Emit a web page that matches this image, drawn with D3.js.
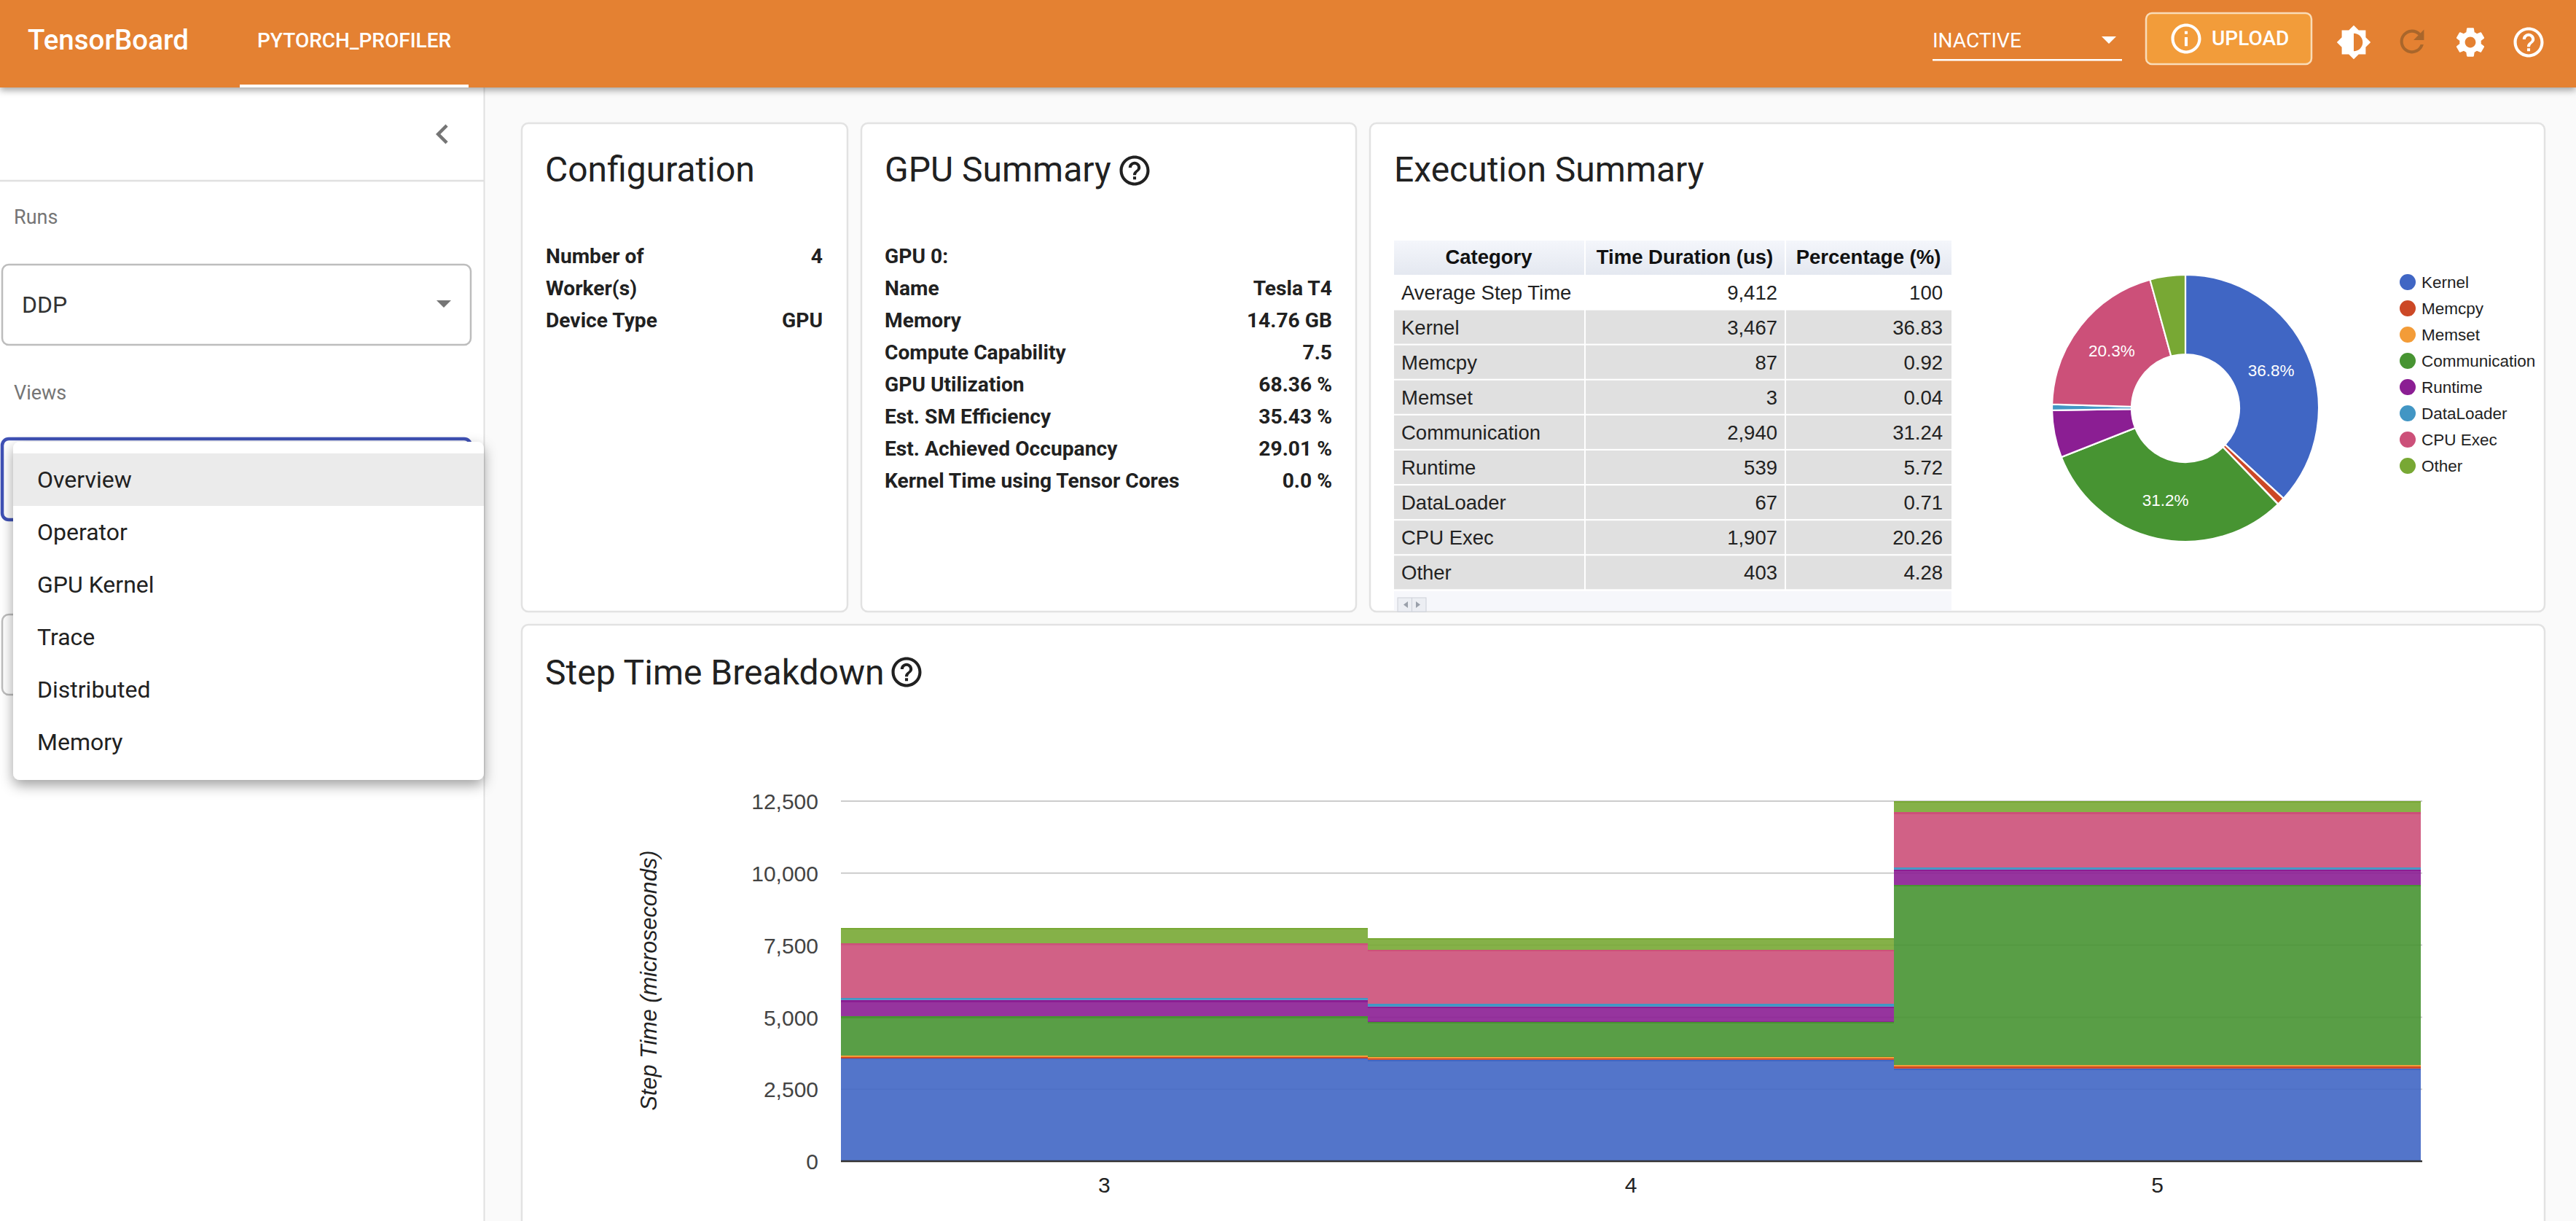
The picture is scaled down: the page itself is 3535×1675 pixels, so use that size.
<!DOCTYPE html>
<html><head><meta charset="utf-8">
<script src="https://cdn.jsdelivr.net/npm/d3@7/dist/d3.min.js"></script>
<style>html,body{margin:0;padding:0;background:#fafafa;overflow:hidden}svg{display:block}text{font-family:Roboto,sans-serif}.ar text,text.ar{font-family:"Liberation Sans",Arial,sans-serif}</style>
</head><body><div id="app"></div><script>
// ---- data ----
const categories = ["Kernel","Memcpy","Memset","Communication","Runtime","DataLoader","CPU Exec","Other"];
const durations  = [3467,87,3,2940,539,67,1907,403];
const percents   = ["36.83","0.92","0.04","31.24","5.72","0.71","20.26","4.28"];
const colors     = ["#4066c4","#cc4826","#f39c38","#479432","#8b1e93","#4296c4","#cc5079","#78a834"];
const steps      = ["3","4","5"];
const kernel        = [3600,3520,3220];
const memcpy        = [30,70,80];
const memset        = [40,40,50];
const communication = [1355,1215,6250];
const runtime       = [555,520,520];
const dataLoader    = [80,90,70];
const cpuExec       = [1900,1875,1920];
const other         = [535,415,400];
const yTicks = [0,2500,5000,7500,10000,12500];
const tableHeader = ["Category","Time Duration (us)","Percentage (%)"];
const avgRow = ["Average Step Time","9,412","100"];
const configRows = [["Number of","4"],["Worker(s)",""],["Device Type","GPU"]];
const gpuRows = [["GPU 0:",""],["Name","Tesla T4"],["Memory","14.76 GB"],["Compute Capability","7.5"],["GPU Utilization","68.36 %"],["Est. SM Efficiency","35.43 %"],["Est. Achieved Occupancy","29.01 %"],["Kernel Time using Tensor Cores","0.0 %"]];
const menuItems = ["Overview","Operator","GPU Kernel","Trace","Distributed","Memory"];

// ---- icons ----
const icHelp="M11 18h2v-2h-2v2zm1-16C6.48 2 2 6.48 2 12s4.48 10 10 10 10-4.48 10-10S17.52 2 12 2zm0 18c-4.41 0-8-3.59-8-8s3.59-8 8-8 8 3.59 8 8-3.59 8-8 8zm0-14c-2.21 0-4 1.79-4 4h2c0-1.1.9-2 2-2s2 .9 2 2c0 2-3 1.75-3 5h2c0-2.25 3-2.5 3-5 0-2.21-1.79-4-4-4z";
const icGear="M19.14 12.94c.04-.3.06-.61.06-.94 0-.32-.02-.64-.07-.94l2.03-1.58c.18-.14.23-.41.12-.61l-1.92-3.32c-.12-.22-.37-.29-.59-.22l-2.39.96c-.5-.38-1.03-.7-1.62-.94l-.36-2.54c-.04-.24-.24-.41-.48-.41h-3.84c-.24 0-.43.17-.47.41l-.36 2.54c-.59.24-1.13.57-1.62.94l-2.39-.96c-.22-.08-.47 0-.59.22L2.74 8.87c-.12.21-.08.47.12.61l2.03 1.58c-.05.3-.09.63-.09.94s.02.64.07.94l-2.03 1.58c-.18.14-.23.41-.12.61l1.92 3.32c.12.22.37.29.59.22l2.39-.96c.5.38 1.03.7 1.62.94l.36 2.54c.05.24.24.41.48.41h3.84c.24 0 .44-.17.47-.41l.36-2.54c.59-.24 1.13-.56 1.62-.94l2.39.96c.22.08.47 0 .59-.22l1.92-3.32c.12-.22.07-.47-.12-.61l-2.01-1.58zM12 15.6c-1.98 0-3.6-1.62-3.6-3.6s1.62-3.6 3.6-3.6 3.6 1.62 3.6 3.6-1.62 3.6-3.6 3.6z";
const icRefresh="M17.65 6.35C16.2 4.9 14.21 4 12 4c-4.42 0-7.99 3.58-7.99 8s3.57 8 7.99 8c3.73 0 6.84-2.55 7.73-6h-2.08c-.82 2.33-3.04 4-5.65 4-3.31 0-6-2.69-6-6s2.69-6 6-6c1.66 0 3.14.69 4.22 1.78L13 11h7V4l-2.35 2.35z";
const icBright="M20 15.31L23.31 12 20 8.69V4h-4.69L12 .69 8.69 4H4v4.69L.69 12 4 15.31V20h4.69L12 23.31 15.31 20H20v-4.69zM12 18V6c3.31 0 6 2.69 6 6s-2.69 6-6 6z";
const icInfo="M11 7h2v2h-2zm0 4h2v6h-2zm1-9C6.48 2 2 6.48 2 12s4.48 10 10 10 10-4.48 10-10S17.52 2 12 2zm0 18c-4.41 0-8-3.59-8-8s3.59-8 8-8 8 3.59 8 8-3.59 8-8 8z";
const icChev="M15.41 7.41L14 6l-6 6 6 6 1.41-1.41L10.83 12z";

const W=3535,H=1675;
const svg=d3.select("#app").append("svg").attr("width",W).attr("height",H).attr("viewBox",`0 0 ${W} ${H}`);
const defs=svg.append("defs");
const shadow=(id,dy,sd,op)=>defs.append("filter").attr("id",id).attr("x","-10%").attr("y","-30%").attr("width","120%").attr("height","170%")
  .append("feDropShadow").attr("dx",0).attr("dy",dy).attr("stdDeviation",sd).attr("flood-color","#000").attr("flood-opacity",op);
shadow("hdrShadow",4,5,.35); shadow("menuShadow",7,9,.38);
const hg=defs.append("linearGradient").attr("id","thGrad").attr("x1",0).attr("x2",0).attr("y1",0).attr("y2",1);
hg.append("stop").attr("offset",0).attr("stop-color","#f4f6fb");hg.append("stop").attr("offset",1).attr("stop-color","#e4e8f0");

function T(g,x,y,s,size,opt={}){return g.append("text").attr("x",x).attr("y",y).text(s).attr("font-size",size)
  .attr("fill",opt.fill||"#212121").attr("font-weight",opt.w||400).attr("text-anchor",opt.a||"start").attr("class",opt.c||null).attr("font-style",opt.i||null);}
function icon(g,d,cx,cy,s,fill){g.append("path").attr("d",d).attr("fill",fill).attr("transform",`translate(${cx-12*s},${cy-12*s}) scale(${s})`);}

svg.append("rect").attr("width",W).attr("height",H).attr("fill","#fafafa");
// sidebar
const side=svg.append("g");
side.append("rect").attr("x",0).attr("y",0).attr("width",664).attr("height",H).attr("fill","#fff");
side.append("line").attr("x1",664.5).attr("x2",664.5).attr("y1",0).attr("y2",H).attr("stroke","#e0e0e0").attr("stroke-width",2);
side.append("line").attr("x1",0).attr("x2",664).attr("y1",248).attr("y2",248).attr("stroke","#e0e0e0").attr("stroke-width",2.5);
icon(side,icChev,607,184,2.25,"#757575");
T(side,19,307,"Runs",27,{fill:"#757575"});
T(side,19,548,"Views",27,{fill:"#757575"});
side.append("rect").attr("x",3).attr("y",363).attr("width",643).attr("height",110).attr("rx",9).attr("fill","#fff").attr("stroke","#bdbdbd").attr("stroke-width",2.5);
T(side,30,429,"DDP",32,{fill:"#333"});
side.append("path").attr("d","M599 412h20l-10 10z").attr("fill","#757575");
side.append("rect").attr("x",3).attr("y",602).attr("width",643).attr("height",111).attr("rx",9).attr("fill","#fff").attr("stroke","#3f51b5").attr("stroke-width",4.5);
side.append("rect").attr("x",3).attr("y",843).attr("width",643).attr("height",110).attr("rx",9).attr("fill","#fff").attr("stroke","#bdbdbd").attr("stroke-width",2.5);

// cards
const card=(x,y,w,h)=>svg.append("rect").attr("x",x).attr("y",y).attr("width",w).attr("height",h).attr("rx",9).attr("fill","#fff").attr("stroke","#e2e2e2").attr("stroke-width",2.5);
card(716,169,447,670);card(1182,169,679,670);card(1880,169,1612,670);card(716,857,2776,900);
const main=svg.append("g");
T(main,748,249,"Configuration",48);
T(main,1214,249,"GPU Summary",48);
T(main,1913,249,"Execution Summary",48);
T(main,748,939,"Step Time Breakdown",48);
icon(main,icHelp,1557,234,2.05,"#212121");
icon(main,icHelp,1244,922,2.05,"#212121");
configRows.forEach((r,i)=>{T(main,749,361+i*44,r[0],28.2,{w:700});if(r[1])T(main,1129,361+i*44,r[1],28.2,{w:700,a:"end"});});
gpuRows.forEach((r,i)=>{T(main,1214,361+i*44,r[0],28.2,{w:700});if(r[1])T(main,1828,361+i*44,r[1],28.2,{w:700,a:"end"});});

// table
const tbl=main.append("g").attr("class","ar");
const rowTop=i=>377.5+i*48.1;
tbl.append("rect").attr("x",1913).attr("y",811).attr("width",765).attr("height",27).attr("fill","#f6f7fb");
tbl.append("rect").attr("x",1918).attr("y",820).attr("width",39).attr("height",19).attr("fill","#eceef3").attr("stroke","#ccd0d8");
tbl.append("line").attr("x1",1937.5).attr("x2",1937.5).attr("y1",820).attr("y2",839).attr("stroke","#ccd0d8");
tbl.append("path").attr("d","M1932 825v9l-6-4.5z M1943 825v9l6-4.5z").attr("fill","#9aa0aa");
tbl.append("rect").attr("x",1913).attr("y",330).attr("width",765).attr("height",47).attr("fill","url(#thGrad)");
[2043,2312,2564].forEach((x,i)=>T(tbl,x,362,tableHeader[i],27.5,{w:700,a:"middle",c:"ar",fill:"#111"}));
const tableRows=categories.map((c,i)=>[c,d3.format(",")(durations[i]),percents[i]]);
[avgRow,...tableRows].forEach((r,i)=>{
  if(i>0)tbl.append("rect").attr("x",1913).attr("y",rowTop(i)).attr("width",765).attr("height",46).attr("fill","#e0e0e0");
  T(tbl,1923,rowTop(i)+33,r[0],27.5,{c:"ar",fill:"#222"});
  T(tbl,2439,rowTop(i)+33,r[1],27.5,{a:"end",c:"ar",fill:"#222"});
  T(tbl,2666,rowTop(i)+33,r[2],27.5,{a:"end",c:"ar",fill:"#222"});
});
[2175,2450].forEach(x=>tbl.append("line").attr("x1",x).attr("x2",x).attr("y1",330).attr("y2",809).attr("stroke","#fff").attr("stroke-width",2));

// pie
const pieG=svg.append("g").attr("class","ar").attr("transform","translate(2999,560)");
const arcs=d3.pie().sort(null).value(d=>d)(durations);
const arc=d3.arc().innerRadius(74).outerRadius(183);
pieG.selectAll("path").data(arcs).join("path").attr("d",arc).attr("fill",(d,i)=>colors[i]).attr("stroke","#fff").attr("stroke-width",2.2);
const total=d3.sum(durations);
pieG.selectAll("text").data(arcs.filter(a=>a.value/total>.1)).join("text")
  .attr("transform",d=>`translate(${arc.centroid(d)})`).attr("dy","0.36em").attr("text-anchor","middle").attr("font-size",22.5).attr("fill","#fff")
  .text(d=>d3.format(".1f")(d.value/total*100)+"%");
// legend
const leg=svg.append("g").attr("class","ar");
const legY=d3.scalePoint().domain(categories).range([387,639]);
leg.selectAll("circle").data(categories).join("circle").attr("cx",3304).attr("cy",d=>legY(d)).attr("r",11).attr("fill",(d,i)=>colors[i]);
leg.selectAll("text").data(categories).join("text").attr("x",3323).attr("y",d=>legY(d)).attr("dy","0.36em").attr("font-size",22.5).attr("fill","#222").text(d=>d);

// stepped area
const x=d3.scaleBand().domain(steps).range([1154,3322]).padding(0);
const y=d3.scaleLinear().domain([0,12500]).range([1593,1099]);
const series=[kernel,memcpy,memset,communication,runtime,dataLoader,cpuExec,other];
const rows=steps.map((s,i)=>Object.fromEntries([["step",s],...categories.map((c,k)=>[c,series[k][i]])]));
const stacked=d3.stack().keys(categories)(rows);
const plot=svg.append("g").attr("class","ar");
plot.selectAll("line.grid").data(yTicks.filter(t=>t>0)).join("line").attr("class","grid").attr("x1",1154).attr("x2",3324).attr("y1",d=>y(d)).attr("y2",d=>y(d)).attr("stroke","#cccccc").attr("stroke-width",2);
const gs=plot.selectAll("g.s").data(stacked).join("g").attr("class","s");
gs.selectAll("rect").data(d=>d.map(v=>({v,c:colors[categories.indexOf(d.key)]}))).join("rect")
  .attr("x",d=>x(d.v.data.step)).attr("width",x.bandwidth()).attr("y",d=>y(d.v[1])).attr("height",d=>y(d.v[0])-y(d.v[1])).attr("fill",d=>d.c).attr("fill-opacity",.9).attr("shape-rendering","crispEdges");
gs.selectAll("line").data(d=>d.map(v=>({v,c:colors[categories.indexOf(d.key)]}))).join("line")
  .attr("x1",d=>x(d.v.data.step)).attr("x2",d=>x(d.v.data.step)+x.bandwidth()).attr("y1",d=>y(d.v[1])+1).attr("y2",d=>y(d.v[1])+1).attr("stroke",d=>d.c).attr("stroke-width",2.2).attr("shape-rendering","crispEdges");
plot.append("line").attr("x1",1154).attr("x2",3324).attr("y1",1593).attr("y2",1593).attr("stroke","#333").attr("stroke-width",2.5);
const yAxis=plot.append("g").attr("transform","translate(1123,1)").call(d3.axisLeft(y).tickValues(yTicks).tickFormat(d3.format(",")).tickSize(0).tickPadding(0));
yAxis.select(".domain").remove();
yAxis.selectAll("text").attr("font-size",30).attr("fill","#444").attr("font-family",'"Liberation Sans",Arial,sans-serif');
const xAxis=plot.append("g").attr("transform","translate(0,1625)").call(d3.axisBottom(x).tickSize(0).tickPadding(0));
xAxis.select(".domain").remove();
xAxis.selectAll("text").attr("font-size",30).attr("fill","#222").attr("dy","0.36em").attr("font-family",'"Liberation Sans",Arial,sans-serif');
plot.append("text").attr("transform","translate(890,1345) rotate(-90)").attr("text-anchor","middle").attr("dy","0.36em").attr("font-size",30.6).attr("font-style","italic").attr("fill","#222").attr("font-family",'"Liberation Sans",Arial,sans-serif').text("Step Time (microseconds)");

// dropdown menu
const menu=svg.append("g");
menu.append("rect").attr("x",18).attr("y",606).attr("width",646).attr("height",464).attr("rx",9).attr("fill","#fff").attr("filter","url(#menuShadow)");
menu.append("rect").attr("x",18).attr("y",622).attr("width",646).attr("height",72).attr("fill","#ebebeb");
const menuY=d3.scalePoint().domain(menuItems).range([669,1029]);
menu.selectAll("text").data(menuItems).join("text").attr("x",51).attr("y",d=>menuY(d)).attr("font-size",32).attr("fill","#212121").text(d=>d);

// header
const head=svg.append("g");
head.append("rect").attr("width",W).attr("height",120).attr("fill","#e48131").attr("filter","url(#hdrShadow)");
T(head,38,68,"TensorBoard",38.5,{fill:"#fff",w:500});
T(head,353,65,"PYTORCH_PROFILER",28,{fill:"#fff",w:500});
head.append("rect").attr("x",329).attr("y",116).attr("width",314).attr("height",4).attr("fill","#fff");
T(head,2652,65,"INACTIVE",28,{fill:"#fff"});
head.append("path").attr("d","M2884 50h20l-10 10z").attr("fill","#fff");
head.append("rect").attr("x",2652).attr("y",81).attr("width",260).attr("height",2.5).attr("fill","#fff");
head.append("rect").attr("x",2945).attr("y",18).attr("width",227).attr("height",70).attr("rx",8).attr("fill","#f29c3a").attr("stroke","#f9dcb8").attr("stroke-width",2.5);
icon(head,icInfo,3000,53,2.05,"#fff");
T(head,3035,62,"UPLOAD",28,{fill:"#fff",w:500});
icon(head,icBright,3230,58,2.05,"#fff");
icon(head,icRefresh,3310,57,2.05,"#a9662b");
icon(head,icGear,3390,58,2.05,"#fff");
icon(head,icHelp,3470,58,2.05,"#fff");
</script></body></html>
